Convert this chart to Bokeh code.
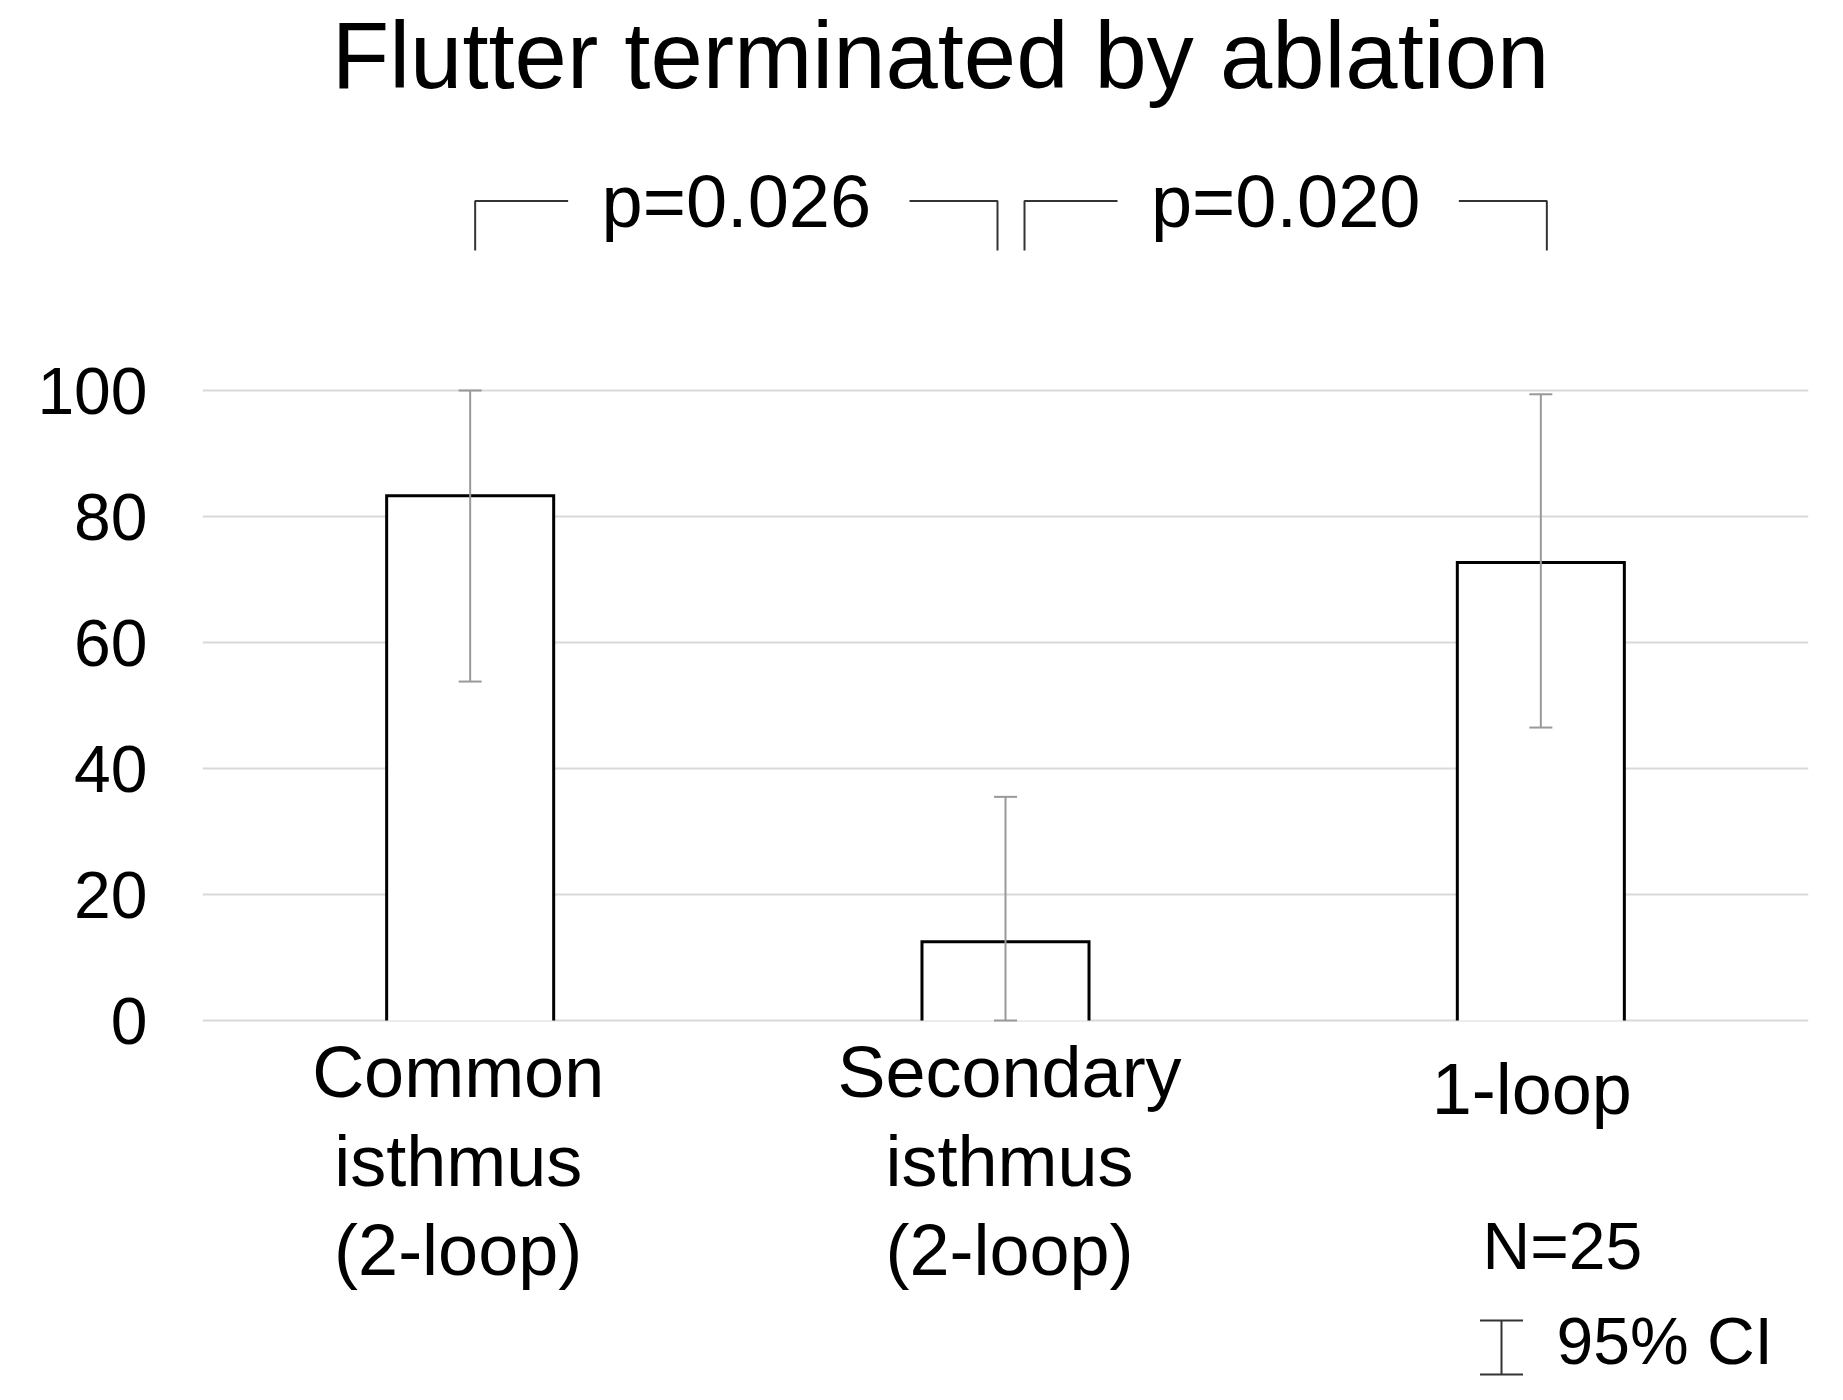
from bokeh.plotting import figure
from bokeh.models import ColumnDataSource, Range1d, FactorRange, FixedTicker, Whisker, TeeHead
from bokeh.embed import file_html
from bokeh.resources import INLINE
from bokeh.core.properties import value

# ---------------- data ----------------
title_text = "Flutter terminated by ablation"
categories = ["Common isthmus (2-loop)", "Secondary isthmus (2-loop)", "1-loop"]
category_lines = [["Common", "isthmus", "(2-loop)"],
                  ["Secondary", "isthmus", "(2-loop)"],
                  ["1-loop"]]
percent_terminated = [83.3, 12.5, 72.7]
ci_lower = [53.8, 0.0, 46.5]
ci_upper = [100.0, 35.5, 99.4]
y_ticks = [0, 20, 40, 60, 80, 100]
comparison_from = [0, 1]
comparison_to = [1, 2]
comparison_labels = ["p=0.026", "p=0.020"]
n_text = "N=25"
ci_legend_text = "95% CI"

# ---------------- layout helpers ----------------
FONT = "Liberation Sans"
W, H = 1827, 1384
LEFT, RIGHT = 202, 19
FRAME_W = W - LEFT - RIGHT
CAT_PX = FRAME_W / len(categories)
Y0_SCREEN = 1020             # pixel y of value 0
PX_PER_UNIT = 6.3
BASE_SHIFT = 0.37            # em correction for rendered baseline
BAR_W = 0.312

def yv(py):
    return (Y0_SCREEN - py) / PX_PER_UNIT

def ty(py, fs):
    return yv(py - BASE_SHIFT * fs)

def cat_center(i):
    return LEFT + CAT_PX * (i + 0.5)

def xo(i, px):
    return (categories[i], (px - cat_center(i)) / CAT_PX)

y_top = Y0_SCREEN / PX_PER_UNIT
y_bottom = -(H - Y0_SCREEN) / PX_PER_UNIT

p = figure(width=W, height=H, x_range=FactorRange(*categories, range_padding=0),
           y_range=Range1d(y_bottom, y_top), output_backend="svg",
           toolbar_location=None, x_axis_location=None,
           min_border_left=LEFT, min_border_right=RIGHT,
           min_border_top=0, min_border_bottom=0)
p.outline_line_color = None
p.background_fill_color = "white"
p.border_fill_color = "white"

# y axis
p.yaxis.ticker = FixedTicker(ticks=y_ticks)
p.yaxis.axis_line_color = None
p.yaxis.major_tick_line_color = None
p.yaxis.minor_tick_line_color = None
p.yaxis.major_tick_out = 0
p.yaxis.major_tick_in = 0
p.yaxis.major_label_standoff = 55
p.yaxis.major_label_text_font = FONT
p.yaxis.major_label_text_font_size = "66px"
p.yaxis.major_label_text_color = "black"
p.xgrid.grid_line_color = None
p.ygrid.grid_line_color = "#d9d9d9"
p.ygrid.grid_line_width = 2

# bars: white fill, outline on three sides (bottom sits on the gridline)
src = ColumnDataSource(dict(cat=categories, val=percent_terminated,
                            lower=ci_lower, upper=ci_upper))
p.vbar(x="cat", top="val", bottom=0, width=BAR_W, source=src,
       fill_color="white", line_color=None)
bar_xs = [[(c, -BAR_W / 2), (c, -BAR_W / 2), (c, BAR_W / 2), (c, BAR_W / 2)] for c in categories]
bar_ys = [[0, v, v, 0] for v in percent_terminated]
p.multi_line(xs=bar_xs, ys=bar_ys, line_color="black", line_width=3, line_join="miter")

# error bars
err_col = "#999999"
p.add_layout(Whisker(base="cat", upper="upper", lower="lower", source=src,
                     line_color=err_col, line_width=2, level="overlay",
                     upper_head=TeeHead(size=23, line_color=err_col, line_width=2),
                     lower_head=TeeHead(size=23, line_color=err_col, line_width=2)))

# title
p.text(x=[xo(1, 940)], y=[ty(90, 94)], text=[title_text],
       text_font=value(FONT), text_font_size="94px", text_align="center",
       text_baseline="alphabetic", text_color="black")

# significance brackets
end_offsets = [(5, -8), (19, 6)]
piece_len = (93, 88)
y_line, y_foot = yv(200.5), yv(250)
xs, ys, tx, tyy = [], [], [], []
for k, (a, b) in enumerate(zip(comparison_from, comparison_to)):
    lx = cat_center(a) + end_offsets[k][0]
    rx = cat_center(b) + end_offsets[k][1]
    xs.append([xo(a, lx), xo(a, lx), xo(a, lx + piece_len[0])])
    ys.append([y_foot, y_line, y_line])
    xs.append([xo(b, rx - piece_len[1]), xo(b, rx), xo(b, rx)])
    ys.append([y_line, y_line, y_foot])
    tx.append(xo(b, (lx + rx) / 2))
    tyy.append(ty(228, 74))
p.multi_line(xs=xs, ys=ys, line_color="#333333", line_width=2)
p.text(x=tx, y=tyy, text=comparison_labels, text_font=value(FONT),
       text_font_size="74px", text_align="center", text_baseline="alphabetic",
       text_color="black")

# category labels
label_dx = [-12, 4, -9]
label_dy = [0, 0, 17]
lx_, ly_, lt_ = [], [], []
for i, lines in enumerate(category_lines):
    for j, line in enumerate(lines):
        lx_.append(xo(i, cat_center(i) + label_dx[i]))
        ly_.append(ty(1098 + label_dy[i] + 89 * j, 72))
        lt_.append(line)
p.text(x=lx_, y=ly_, text=lt_, text_font=value(FONT), text_font_size="72px",
       text_align="center", text_baseline="alphabetic", text_color="black")

# N and CI legend
p.text(x=[xo(2, 1482)], y=[ty(1270, 66)], text=[n_text],
       text_font=value(FONT), text_font_size="66px", text_align="left",
       text_baseline="alphabetic", text_color="black")
p.text(x=[xo(2, 1556)], y=[ty(1365, 66)], text=[ci_legend_text],
       text_font=value(FONT), text_font_size="66px", text_align="left",
       text_baseline="alphabetic", text_color="black")
icon_src = ColumnDataSource(dict(base=[xo(2, 1501)], lower=[yv(1374)], upper=[yv(1320)]))
icon_col = "#333333"
p.add_layout(Whisker(base="base", upper="upper", lower="lower", source=icon_src,
                     line_color=icon_col, line_width=2, level="overlay",
                     upper_head=TeeHead(size=43, line_color=icon_col, line_width=2),
                     lower_head=TeeHead(size=43, line_color=icon_col, line_width=2)))

open("out.html", "w").write(file_html(p, INLINE))
